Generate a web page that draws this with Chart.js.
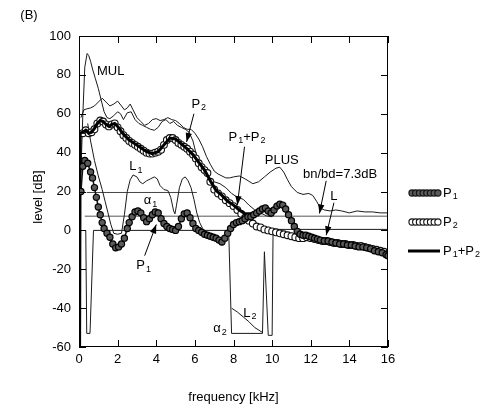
<!DOCTYPE html>
<html>
<head>
<meta charset="utf-8">
<script src="https://cdn.jsdelivr.net/npm/chart.js@4.4.1/dist/chart.umd.min.js"></script>
<style>
  html, body { margin: 0; padding: 0; background: #fff; }
  canvas { display: block; }
</style>
</head>
<body>
<canvas id="levelChart" width="482" height="409"></canvas>
<script>
// values (kHz / dB)
const p1Freq = [0.1, 0.2, 0.3, 0.45, 0.6, 0.7, 0.8, 0.9, 1.0, 1.1, 1.2, 1.3, 1.45, 1.6, 1.75, 1.9, 2.05, 2.2, 2.35, 2.5, 2.6, 2.75, 2.9, 3.05, 3.2, 3.35, 3.5, 3.65, 3.8, 3.95, 4.1, 4.25, 4.4, 4.55, 4.7, 4.85, 5.0, 5.15, 5.3, 5.45, 5.6, 5.75, 5.9, 6.05, 6.2, 6.35, 6.5, 6.65, 6.8, 6.95, 7.1, 7.25, 7.4, 7.55, 7.7, 7.85, 8.0, 8.15, 8.3, 8.45, 8.6, 8.75, 8.9, 9.05, 9.2, 9.35, 9.5, 9.65, 9.8, 9.95, 10.1, 10.25, 10.4, 10.55, 10.7, 10.85, 11.0, 11.15, 11.3, 11.45, 11.6, 11.75, 11.9, 12.05, 12.2, 12.35, 12.5, 12.7, 12.9, 13.1, 13.3, 13.5, 13.7, 13.9, 14.1, 14.3, 14.5, 14.7, 14.9, 15.1, 15.3, 15.5, 15.7, 15.9, 16.0];
const p1Level = [20, 33, 36, 34.5, 30, 27, 22, 17, 12, 8, 4, 1, -1.5, -3.5, -7, -9, -8.5, -7, -4, 1, 4, 7, 9.5, 10, 9, 6.5, 4.5, 6, 8, 9.5, 9, 6, 3.5, 2, 1, 0.5, 0, 2, 6, 8.5, 9, 6.5, 3.5, 1, 0, -1, -2, -2.5, -3, -3.5, -4, -5, -6, -4, -1.5, 1, 3, 4, 4.5, 5, 6, 7, 7, 8, 9, 10, 11, 11.5, 10, 9, 10.5, 12.5, 13.5, 13, 11, 8, 5, 2, -0.5, -2, -2.5, -2.5, -3, -3.5, -4, -4.5, -5, -5.5, -5.5, -6, -6.5, -7, -7, -7.5, -7.5, -8, -8.5, -8.5, -9, -9.5, -10.5, -11, -11.5, -12.5, -13];

const p2Freq = [0.2, 0.35, 0.5, 0.65, 0.8, 0.95, 1.1, 1.25, 1.4, 1.55, 1.7, 1.85, 2.0, 2.15, 2.3, 2.45, 2.6, 2.75, 2.9, 3.05, 3.2, 3.35, 3.5, 3.65, 3.8, 3.95, 4.1, 4.25, 4.4, 4.55, 4.7, 4.85, 5.0, 5.15, 5.3, 5.45, 5.6, 5.75, 5.9, 6.05, 6.2, 6.35, 6.5, 6.65, 6.8, 7.0, 7.2, 7.4, 7.6, 7.8, 8.0, 8.2, 8.4, 8.6, 8.8, 9.0, 9.2, 9.4, 9.6, 9.8, 10.0, 10.2, 10.4, 10.6, 10.8, 11.0, 11.2, 11.4, 11.6, 11.8, 12.0, 12.2, 12.4, 12.6, 12.8, 13.0, 13.2, 13.4, 13.6, 13.8, 14.0, 14.2, 14.4, 14.6, 14.8, 15.0, 15.2, 15.4, 15.6, 15.8, 16.0];
const p2Level = [50, 51.5, 50, 50.5, 52, 55, 56.5, 56, 54.5, 53.5, 54.5, 55, 53, 51, 49, 47.5, 46, 45, 44, 43, 42, 41, 40, 39.5, 39.5, 40, 40.5, 41.5, 44, 46.5, 47.5, 47.5, 46.5, 45, 44, 43, 42, 40.5, 39, 37, 34.5, 32.5, 31, 29.5, 25, 21, 19, 17.5, 15.5, 14, 12.5, 10.5, 8.5, 6.5, 5, 3.5, 2, 1.5, 0.5, 0, -0.5, -1, -1.5, -2, -2.5, -3, -3.5, -4, -4, -3.5, -4, -4.5, -5, -5.5, -5.5, -6, -6.5, -6.5, -7, -7, -7.5, -7.5, -8, -8, -8.5, -9, -9.5, -10, -10.5, -11, -12];

const sumFreq = [0.03, 0.06, 0.2, 0.35, 0.5, 0.65, 0.8, 0.95, 1.1, 1.25, 1.4, 1.55, 1.7, 1.85, 2.0, 2.3, 2.6, 2.9, 3.2, 3.5, 3.8, 4.1, 4.4, 4.7, 5.0, 5.3, 5.6, 5.9, 6.2, 6.5, 6.8, 7.1, 7.4, 7.7, 8.0, 8.3, 8.6, 8.9, 9.2, 9.5, 9.8, 10.1, 10.4, 10.7, 11.0, 11.3, 11.6, 12.0, 12.5, 13.0, 13.5, 14.0, 14.5, 15.0, 15.5, 16.0];
const sumLevel = [-60, 50, 50.5, 51.5, 50, 50.5, 52.5, 55, 56.5, 56, 54.5, 53.5, 54.5, 55, 53.5, 49.5, 46.5, 44.5, 42.5, 40.5, 39.5, 40.5, 44, 47.5, 47, 44.5, 42, 39, 35, 31, 25.5, 20.5, 18, 15, 13, 10.5, 8.5, 8.5, 9.5, 11.5, 10.5, 11, 14, 11.5, 5.5, 0, -2, -3.5, -5, -6, -6.5, -7.5, -8, -9, -10.5, -12.5];

const mulFreq = [0.1, 0.2, 0.3, 0.42, 0.5, 0.6, 0.7, 0.85, 1.0, 1.15, 1.3, 1.45, 1.6, 1.8, 2.0, 2.15, 2.3, 2.5, 2.7, 2.9, 3.1, 3.3, 3.5, 3.7, 3.9, 4.1, 4.3, 4.5, 4.7, 4.9, 5.1, 5.3, 5.5, 5.7, 5.9, 6.1, 6.4, 6.7, 7.0, 7.3, 7.6, 7.9, 8.2, 8.5, 8.8, 9.1, 9.4, 9.7, 10.0];
const mulLevel = [30, 60, 84, 91, 90, 87, 83, 78, 73, 67, 61, 58, 57.5, 59, 61, 60, 57, 60.5, 61, 57, 55, 54, 53, 52, 51.5, 53, 56, 57, 55, 56, 54, 53, 52, 50.5, 46, 38, 31, 27, 25, 24, 22, 19, 17, 16, 13, 10.5, 9, 7.5, 7];

const plusFreq = [0.1, 0.25, 0.4, 0.6, 0.8, 1.0, 1.2, 1.4, 1.6, 1.8, 2.0, 2.2, 2.35, 2.5, 2.65, 2.8, 3.0, 3.2, 3.4, 3.6, 3.8, 4.0, 4.2, 4.4, 4.6, 4.8, 5.0, 5.2, 5.4, 5.6, 5.8, 6.0, 6.2, 6.4, 6.6, 6.8, 7.0, 7.2, 7.4, 7.6, 7.8, 8.0, 8.3, 8.6, 9.0, 9.3, 9.6, 9.9, 10.2, 10.4, 10.6, 10.8, 11.0, 11.3, 11.6, 11.9, 12.1, 12.3, 12.5, 12.7, 13.0, 13.3, 13.6, 14.0, 14.4, 14.8, 15.2, 15.6, 16.0];
const plusLevel = [58, 62, 62.5, 63, 64, 66, 68, 66, 64, 65, 66.5, 64, 62, 63, 65, 62, 58, 56, 54, 55, 57, 57.5, 56.5, 57, 58, 57, 56.5, 55, 53, 52, 52, 50, 47, 43, 38, 34, 30.5, 29, 28, 27, 27, 27.5, 28, 26.5, 24, 25, 27.5, 30, 32, 32.5, 30, 26, 22.5, 19.5, 18.5, 19, 18, 15, 11.5, 10.5, 10, 10.5, 10, 9, 10, 9.5, 9.5, 9, 9];

const l1Freq = [0.45, 0.6, 0.8, 1.0, 1.2, 1.35, 1.5, 1.65, 1.8, 2.0, 2.2, 2.35, 2.5, 2.65, 2.8, 3.0, 3.15, 3.3, 3.5, 3.7, 3.9, 4.05, 4.2, 4.4, 4.6, 4.75, 4.9, 4.97, 5.05, 5.2, 5.35, 5.5, 5.65, 5.8, 5.95, 6.1, 6.25, 6.4, 6.5];
const l1Level = [55, 46, 36, 28, 21, 15, 9, 3, -1.5, -2, -1.5, 8, 20, 26, 28.5, 27.5, 25, 24, 25.5, 26.5, 27.5, 26.5, 23, 21, 20.5, 17, 10, 8.5, 13, 22, 26.5, 27.5, 25.5, 22, 16, 9, 4, 1, 0];

const l2Freq = [7.9, 8.2, 8.5, 8.8, 9.1, 9.5];
const l2Level = [-40, -42, -44.5, -47, -50, -52.5];

const floorFreq = [0.35, 0.4, 0.57, 0.75, 7.75, 7.9, 9.5, 9.6, 9.8, 10.0, 10.05, 16.0];
const floorLevel = [0, -53, -53, 0, 0, -53, -53, -11, -54, -54, 0.5, 0.5];

const alpha1Freq = [0.4, 6.1];
const alpha1Level = [19.5, 19.5];
const bnbdFreq = [0.3, 16.0];
const bnbdLevel = [7.3, 7.3];

const FONT = '"Liberation Sans", Arial, Helvetica, sans-serif';

function pts(xs, ys) {
  return xs.map((x, i) => ({ x: x, y: ys[i] }));
}

function thin(label, xs, ys, color) {
  return {
    label: label,
    data: pts(xs, ys),
    borderColor: color || '#1a1a1a',
    borderWidth: 1,
    pointRadius: 0,
    fill: false,
    tension: 0,
    order: 5,
  };
}

const datasets = [
  {
    label: 'P_1',
    data: pts(p1Freq, p1Level),
    borderColor: '#111',
    borderWidth: 1.5,
    pointRadius: 3.1,
    pointBorderWidth: 1.2,
    pointBackgroundColor: '#5a5a5a',
    pointBorderColor: '#000',
    tension: 0,
    fill: false,
    order: 0,
  },
  {
    label: 'P_2',
    data: pts(p2Freq, p2Level),
    borderColor: 'rgba(0,0,0,0)',
    borderWidth: 0,
    pointRadius: 3.4,
    pointBorderWidth: 1.1,
    pointBackgroundColor: '#fff',
    pointBorderColor: '#111',
    showLine: false,
    fill: false,
    order: 2,
  },
  {
    label: 'P_1+P_2',
    data: pts(sumFreq, sumLevel),
    borderColor: '#000',
    borderWidth: 3,
    pointRadius: 0,
    tension: 0,
    fill: false,
    order: 1,
  },
  thin('MUL', mulFreq, mulLevel),
  thin('PLUS', plusFreq, plusLevel),
  thin('L1', l1Freq, l1Level),
  thin('L2', l2Freq, l2Level),
  thin('L', floorFreq, floorLevel),
  thin('alpha1', alpha1Freq, alpha1Level, '#444'),
  thin('bnbd', bnbdFreq, bnbdLevel, '#555'),
];

// text labels placed in data units
const notes = [
  { text: 'MUL', x: 0.93, y: 82, align: 'left' },
  { text: 'P_2', x: 6.2, y: 65, align: 'center', arrow: [5.95, 60, 5.57, 45.5] },
  { text: 'P_1+P_2', x: 8.7, y: 48, align: 'center', arrow: [8.57, 43, 8.2, 13] },
  { text: 'PLUS', x: 10.5, y: 36, align: 'center' },
  { text: 'bn/bd=7.3dB', x: 11.6, y: 29, align: 'left', arrow: [12.8, 25.5, 12.45, 8.7] },
  { text: 'L', x: 13.2, y: 17.5, align: 'center', arrow: [13.2, 14.2, 12.8, -2.5] },
  { text: 'L_1', x: 2.95, y: 33, align: 'center' },
  { text: 'α_1', x: 3.7, y: 15.5, align: 'center' },
  { text: 'P_1', x: 3.35, y: -18, align: 'center', arrow: [3.4, -13, 4.0, 3] },
  { text: 'α_2', x: 7.3, y: -50.5, align: 'center' },
  { text: 'L_2', x: 8.85, y: -42.5, align: 'center' },
];

function richText(ctx, str, x, y, size, align) {
  const parts = [];
  for (let i = 0; i < str.length; i++) {
    if (str[i] === '_') { parts.push({ t: str[i + 1], sub: true }); i++; }
    else parts.push({ t: str[i], sub: false });
  }
  const subSize = Math.round(size * 0.72);
  let w = 0;
  parts.forEach(p => {
    ctx.font = (p.sub ? subSize : size) + 'px ' + FONT;
    p.w = ctx.measureText(p.t).width + (p.sub ? 1 : 0);
    w += p.w;
  });
  let cx = align === 'center' ? x - w / 2 : (align === 'right' ? x - w : x);
  ctx.textAlign = 'left';
  ctx.textBaseline = 'middle';
  parts.forEach(p => {
    ctx.font = (p.sub ? subSize : size) + 'px ' + FONT;
    ctx.fillText(p.t, cx + (p.sub ? 1 : 0), p.sub ? y + size * 0.3 : y);
    cx += p.w;
  });
}

function arrow(ctx, x1, y1, x2, y2) {
  ctx.beginPath();
  ctx.moveTo(x1, y1);
  ctx.lineTo(x2, y2);
  ctx.lineWidth = 1;
  ctx.strokeStyle = '#000';
  ctx.stroke();
  const a = Math.atan2(y2 - y1, x2 - x1);
  const len = 9, hw = 3.2;
  ctx.beginPath();
  ctx.moveTo(x2, y2);
  ctx.lineTo(x2 - len * Math.cos(a) + hw * Math.sin(a), y2 - len * Math.sin(a) - hw * Math.cos(a));
  ctx.lineTo(x2 - len * Math.cos(a) - hw * Math.sin(a), y2 - len * Math.sin(a) + hw * Math.cos(a));
  ctx.closePath();
  ctx.fillStyle = '#000';
  ctx.fill();
}

const decorate = {
  id: 'decorate',
  afterDraw(chart) {
    const ctx = chart.ctx;
    const area = chart.chartArea;
    const xs = chart.scales.x, ys = chart.scales.y;
    ctx.save();
    // frame and inward ticks
    ctx.strokeStyle = '#000';
    ctx.lineWidth = 1;
    ctx.strokeRect(area.left + 0.5, area.top + 0.5, area.right - area.left - 1, area.bottom - area.top - 1);
    ctx.beginPath();
    xs.ticks.forEach(t => {
      const px = Math.round(xs.getPixelForValue(t.value)) + 0.5;
      ctx.moveTo(px, area.bottom); ctx.lineTo(px, area.bottom - 7);
      ctx.moveTo(px, area.top); ctx.lineTo(px, area.top + 7);
    });
    ys.ticks.forEach(t => {
      const py = Math.round(ys.getPixelForValue(t.value)) + 0.5;
      ctx.moveTo(area.left, py); ctx.lineTo(area.left + 7, py);
      ctx.moveTo(area.right, py); ctx.lineTo(area.right - 7, py);
    });
    ctx.stroke();
    ctx.fillStyle = '#000';

    // notes
    notes.forEach(n => {
      richText(ctx, n.text, xs.getPixelForValue(n.x), ys.getPixelForValue(n.y), 13, n.align);
      if (n.arrow) {
        const a = n.arrow;
        arrow(ctx, xs.getPixelForValue(a[0]), ys.getPixelForValue(a[1]),
                   xs.getPixelForValue(a[2]), ys.getPixelForValue(a[3]));
      }
    });

    // axis titles and panel letter
    ctx.fillStyle = '#000';
    ctx.font = '13px ' + FONT;
    ctx.textAlign = 'center';
    ctx.textBaseline = 'middle';
    ctx.fillText('frequency [kHz]', (area.left + area.right) / 2, 397);
    ctx.fillText('(B)', 29, 15);
    ctx.save();
    ctx.translate(38, 197);
    ctx.rotate(-Math.PI / 2);
    ctx.fillText('level [dB]', 0, 0);
    ctx.restore();

    // legend
    const legendRows = [
      { ds: chart.data.datasets[0], y: 193 },
      { ds: chart.data.datasets[1], y: 222 },
      { ds: chart.data.datasets[2], y: 251 },
    ];
    legendRows.forEach(r => {
      const ds = r.ds;
      if (ds.pointRadius > 0) {
        for (let px = 412; px <= 438; px += 3.7) {
          ctx.beginPath();
          ctx.arc(px, r.y, 3.1, 0, Math.PI * 2);
          ctx.fillStyle = ds.pointBackgroundColor;
          ctx.fill();
          ctx.lineWidth = 1.1;
          ctx.strokeStyle = '#111';
          ctx.stroke();
        }
      } else {
        ctx.beginPath();
        ctx.moveTo(408, r.y); ctx.lineTo(440, r.y);
        ctx.lineWidth = 3;
        ctx.strokeStyle = '#000';
        ctx.stroke();
      }
      ctx.fillStyle = '#000';
      richText(ctx, ds.label, 443, r.y, 13, 'left');
    });
    ctx.restore();
  }
};

const canvas = document.getElementById('levelChart');
const chart = new Chart(canvas.getContext('2d'), {
  type: 'line',
  data: { datasets: datasets },
  options: {
    responsive: false,
    animation: false,
    layout: { padding: { top: 36, right: 94, left: 0, bottom: 0 } },
    plugins: { legend: { display: false }, tooltip: { enabled: false } },
    scales: {
      x: {
        type: 'linear',
        min: 0, max: 16,
        ticks: { stepSize: 2, color: '#000', font: { family: FONT, size: 13 }, padding: 5, maxRotation: 0 },
        grid: { display: false, drawTicks: false },
        border: { display: false },
        afterFit(s) { s.height = 62; },
      },
      y: {
        type: 'linear',
        min: -60, max: 100,
        ticks: { stepSize: 20, color: '#000', font: { family: FONT, size: 13 }, padding: 8 },
        grid: { display: false, drawTicks: false },
        border: { display: false },
        afterFit(s) { s.width = 79; },
      },
    },
  },
  plugins: [decorate],
});
</script>
</body>
</html>
